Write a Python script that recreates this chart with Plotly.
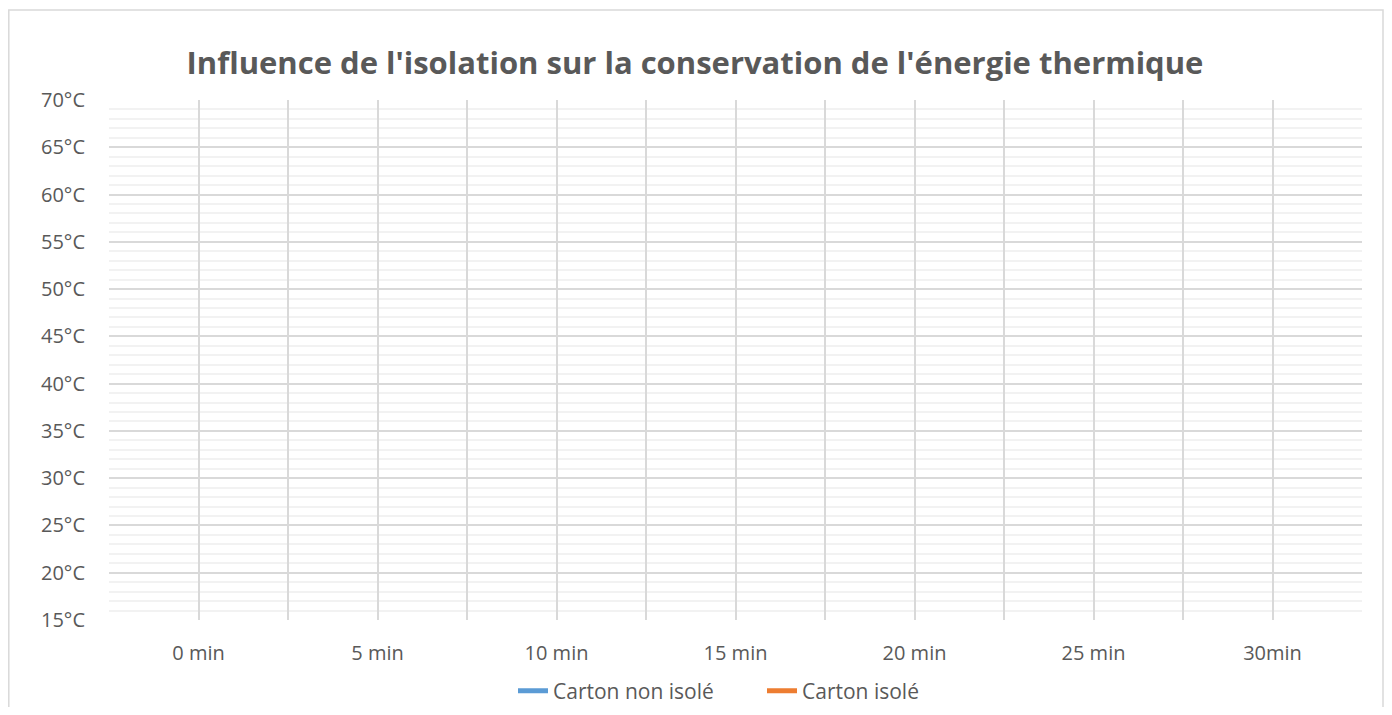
import plotly.graph_objects as go

categories = ["0 min", "5 min", "10 min", "15 min", "20 min", "25 min", "30min"]
carton_non_isole = [None, None, None, None, None, None, None]
carton_isole = [None, None, None, None, None, None, None]
y_ticks = [15, 20, 25, 30, 35, 40, 45, 50, 55, 60, 65, 70]
y_ticklabels = ["15°C", "20°C", "25°C", "30°C", "35°C", "40°C", "45°C", "50°C", "55°C", "60°C", "65°C", "70°C"]

FONT = "Open Sans"
TXT = "#595959"
GRID = "#D9D9D9"
MINOR = "#F2F2F2"

xs = list(range(len(categories)))

# gridlines at category centres and boundaries (labels only at centres)
x_tickvals, x_ticktext = [-0.5], [""]
for i, c in enumerate(categories):
    x_tickvals += [i, i + 0.5]
    x_ticktext += [c, ""]

fig = go.Figure()
fig.add_trace(go.Scatter(x=xs, y=carton_non_isole, mode="lines", name="Carton non isolé",
                         line=dict(color="#5B9BD5", width=5)))
fig.add_trace(go.Scatter(x=xs, y=carton_isole, mode="lines", name="Carton isolé",
                         line=dict(color="#ED7D31", width=5)))

OFF = 8  # page body margin
W, H = 1392 - 2 * OFF, 715 - 2 * OFF
L = 109 - OFF
R = W - (1362 - OFF)
T = 100 - OFF
B = H - (620 - OFF)
pw, ph = W - L - R, H - T - B

def px_x(x):
    return (x - OFF - L) / pw

def px_y(y):
    return (H - B - (y - OFF)) / ph

fig.update_layout(
    width=W, height=H,
    margin=dict(l=L, r=R, t=T, b=B, autoexpand=False),
    paper_bgcolor="white", plot_bgcolor="white",
    font=dict(family=FONT, color=TXT, size=20),
    title=dict(text="<b>Influence de l'isolation sur la conservation de l'énergie thermique</b>",
               x=(695 - OFF) / W, xanchor="center", xref="container",
               y=1 - (63 - OFF) / H, yanchor="middle",
               font=dict(family=FONT, size=31, color=TXT)),
    showlegend=True,
    legend=dict(orientation="h", x=px_x(513), xanchor="left", y=px_y(691), yanchor="middle",
                font=dict(size=21, color=TXT), tracegroupgap=0,
                entrywidth=204, entrywidthmode="pixels"),
    xaxis=dict(range=[-0.5, len(categories) - 0.5], tickmode="array", tickvals=x_tickvals,
               ticktext=x_ticktext, showgrid=True, gridcolor=GRID, gridwidth=1.5,
               zeroline=False, showline=False, ticks="", ticklabelstandoff=19,
               tickfont=dict(size=20, color=TXT), fixedrange=True),
    yaxis=dict(range=[15, 70], tickmode="array", tickvals=y_ticks, ticktext=y_ticklabels,
               showgrid=True, gridcolor=GRID, gridwidth=1.5, zeroline=False, showline=False,
               ticks="", ticklabelstandoff=23, tickfont=dict(size=20, color=TXT),
               minor=dict(dtick=1, showgrid=True, gridcolor=MINOR, gridwidth=1.5, ticks=""),
               fixedrange=True),
    shapes=[dict(type="rect", xref="paper", yref="paper",
                 x0=px_x(8.8), x1=px_x(1383), y0=px_y(740), y1=px_y(10),
                 line=dict(color="#D9D9D9", width=1.5), fillcolor="rgba(0,0,0,0)", layer="below")],
)

fig.write_html("out.html")
